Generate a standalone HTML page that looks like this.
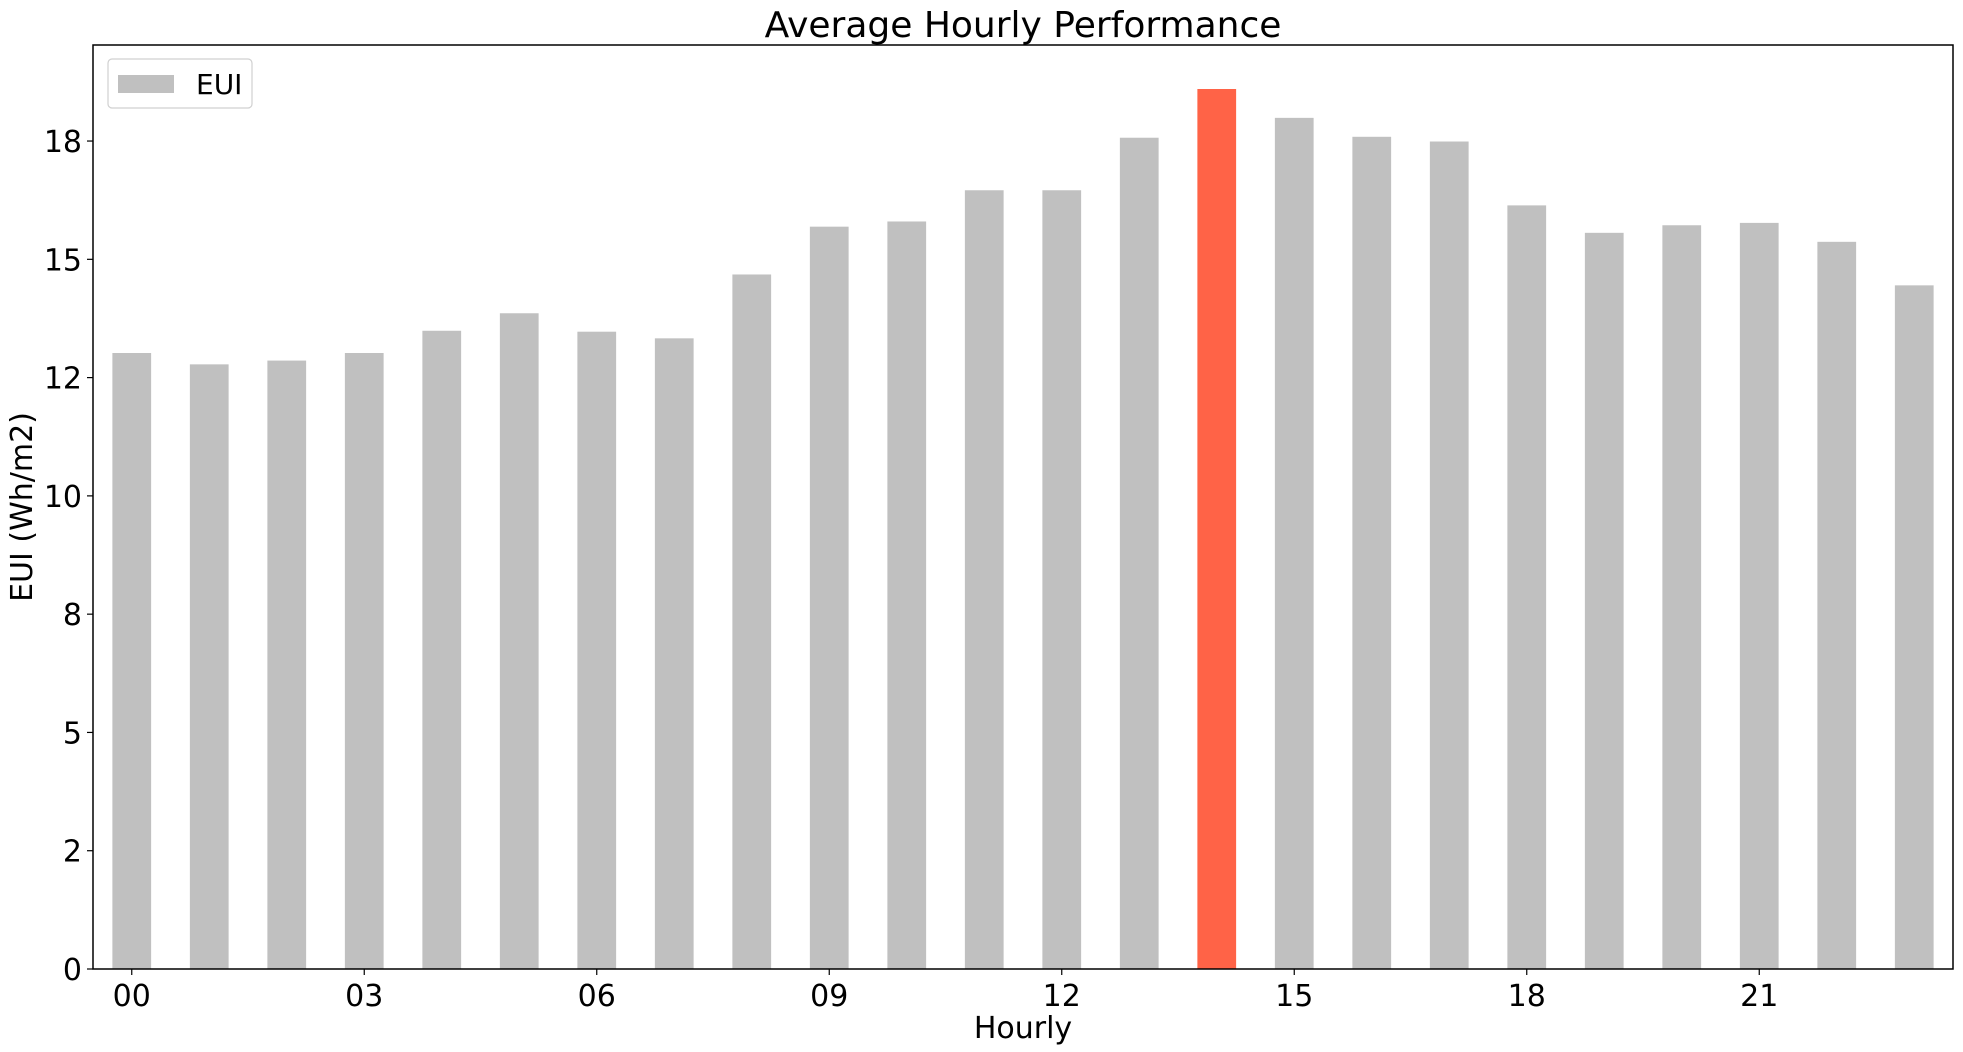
<!DOCTYPE html>
<html><head><meta charset="utf-8"><style>
html,body{margin:0;padding:0;background:#fff;}
svg{display:block;font-family:"DejaVu Sans","Liberation Sans",sans-serif;}
</style></head><body>
<svg id="chart" width="1963" height="1052" viewBox="0 0 1963 1052" xmlns="http://www.w3.org/2000/svg">
<text x="1023" y="37" font-size="36" text-anchor="middle">Average Hourly Performance</text>
<g id="bars"></g>
<g id="yticks"></g>
<g id="xticks"></g>
<rect x="93" y="45" width="1860" height="924" fill="none" stroke="#000" stroke-width="1.5"/>
<text x="1023" y="1038" font-size="30" text-anchor="middle">Hourly</text>
<text transform="translate(32,507) rotate(-90)" font-size="30" text-anchor="middle">EUI (Wh/m2)</text>
<g>
<rect x="108" y="59" width="144" height="49" rx="4" fill="#fff" stroke="#d0d0d0" stroke-width="1.2"/>
<rect x="118" y="75" width="56" height="18" fill="#c0c0c0"/>
<text x="196" y="94" font-size="28">EUI</text>
</g>
</svg>
<script>
const hours = ["00","01","02","03","04","05","06","07","08","09","10","11","12","13","14","15","16","17","18","19","20","21","22","23"];
const euiValues = [13.02,12.78,12.86,13.02,13.49,13.86,13.47,13.33,14.68,15.69,15.80,16.46,16.46,17.57,18.60,17.99,17.59,17.49,16.14,15.56,15.72,15.77,15.37,14.45];
const yTickValues = [0,2.5,5,7.5,10,12.5,15,17.5];
const yTickLabels = ["0","2","5","8","10","12","15","18"];
const xTickIndices = [0,3,6,9,12,15,18,21];

const NS = "http://www.w3.org/2000/svg";
const L = 93, R = 1953, T = 45, B = 969;
const yMax = 19.53;
const n = hours.length;
const xs = i => L + (i + 0.5) / n * (R - L);
const ys = v => B - v / yMax * (B - T);
const step = (R - L) / n;
const maxV = Math.max(...euiValues);

const gb = document.getElementById('bars');
euiValues.forEach((v, i) => {
  const r = document.createElementNS(NS, 'rect');
  r.setAttribute('x', xs(i) - step * 0.25);
  r.setAttribute('width', step * 0.5);
  r.setAttribute('y', ys(v));
  r.setAttribute('height', B - ys(v));
  r.setAttribute('fill', v === maxV ? '#ff6347' : '#c0c0c0');
  
  
  gb.appendChild(r);
});

const gy = document.getElementById('yticks');
yTickValues.forEach((v, i) => {
  const y = ys(v);
  const l = document.createElementNS(NS, 'line');
  l.setAttribute('x1', L - 6); l.setAttribute('x2', L);
  l.setAttribute('y1', y); l.setAttribute('y2', y);
  l.setAttribute('stroke', '#000'); l.setAttribute('stroke-width', '1.2');
  
  
  gy.appendChild(l);
  const t = document.createElementNS(NS, 'text');
  t.setAttribute('x', L - 11); t.setAttribute('y', y + 11);
  t.setAttribute('font-size', '30'); t.setAttribute('text-anchor', 'end');
  t.textContent = yTickLabels[i];
  
  
  gy.appendChild(t);
});

const gx = document.getElementById('xticks');
xTickIndices.forEach(i => {
  const x = xs(i);
  const l = document.createElementNS(NS, 'line');
  l.setAttribute('x1', x); l.setAttribute('x2', x);
  l.setAttribute('y1', B); l.setAttribute('y2', B + 6);
  l.setAttribute('stroke', '#000'); l.setAttribute('stroke-width', '1.2');
  
  
  gx.appendChild(l);
  const t = document.createElementNS(NS, 'text');
  t.setAttribute('x', x); t.setAttribute('y', B + 37);
  t.setAttribute('font-size', '30'); t.setAttribute('text-anchor', 'middle');
  t.textContent = hours[i];
  
  
  gx.appendChild(t);
});
</script>
</body></html>
